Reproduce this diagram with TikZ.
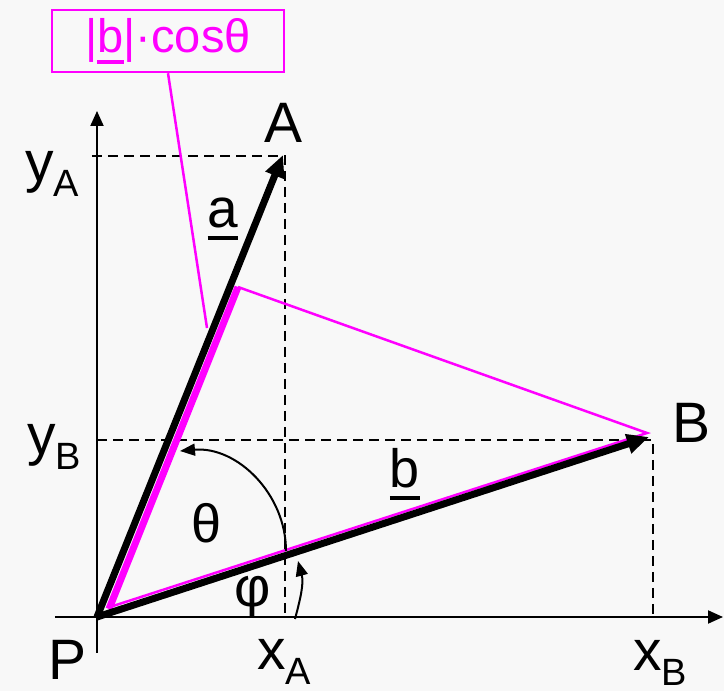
\documentclass[tikz,border=0pt]{standalone}
\usepackage{fontspec}
\setmainfont{Liberation Sans}
\usetikzlibrary{arrows.meta,calc}
\definecolor{paper}{HTML}{F8F8F8}
\definecolor{projpink}{HTML}{FF00FF}
\newsavebox\ulbox
\newcommand\ulvec[1]{\sbox\ulbox{#1}\rlap{\usebox\ulbox}\raisebox{-12pt}{\rule{\wd\ulbox}{4pt}}}
\newcommand\idx[1]{\raisebox{-15pt}{\fontsize{38}{40}\selectfont #1}}

\begin{document}
\begin{tikzpicture}[x=1pt,y=1pt,font=\fontsize{57}{60}\selectfont,
  axis/.style={line width=2pt,-{Triangle[length=15pt,width=13pt]}},
  vec/.style={line width=7pt,-{Triangle[length=22pt,width=19pt]}},
  guide/.style={line width=2.2pt,dash pattern=on 10pt off 6pt},
  turn/.style={line width=2pt,-{Triangle[length=15pt,width=12pt]}},
  proj/.style={projpink,line width=2.5pt},
  lbl/.style={inner sep=0pt}]
  \fill[paper] (-97,-74) rectangle (627,617);
  \useasboundingbox (-97,-74) rectangle (627,617);
  % points
  \coordinate (P) at (0,0);
  \coordinate (A) at (186,462);
  \coordinate (B) at (552,180);
  \coordinate (Ac) at (188,461);
  \coordinate (Bc) at (556,177);
  \coordinate (yAend) at (-5,461);
  \coordinate (xAend) at (188,0);
  \coordinate (yBend) at (0,177);
  \coordinate (xBend) at (556,0);
  % axes
  \coordinate (xlo) at (-42,0);
  \coordinate (xhi) at (626,0);
  \coordinate (ylo) at (0,-36);
  \coordinate (yhi) at (0,506);
  \draw[axis] (xlo) -- (xhi);
  \draw[axis] (ylo) -- (yhi);
  % guides
  \draw[guide] (yAend) -- (Ac) -- (xAend);
  \draw[guide] (yBend) -- (Bc) -- (xBend);
  % projection of b on a
  \coordinate (Pm) at (12,8);
  \coordinate (Pn) at (13,10);
  \coordinate (F) at (141,330);
  \coordinate (Bm) at (550,184);
  \draw[projpink,line width=7pt] (Pm) -- (F);
  \draw[proj] (F) -- (Bm) -- (Pn);
  % vectors
  \draw[vec] (P) -- (A);
  \draw[vec] (P) -- (B);
  % angles
  \coordinate (th0) at (189,66);
  \coordinate (th1) at (83,166);
  \draw[turn] (th0) to[out=90,in=5] (th1);
  \coordinate (ph0) at (198,-2);
  \coordinate (ph1) at (201,56);
  \draw[turn] (ph0) to[out=75,in=-75] (ph1);
  % callout
  \node[draw=projpink,line width=2.5pt,text=projpink,minimum width=232pt,
    minimum height=62pt,inner sep=0pt,font=\fontsize{47}{50}\selectfont]
    (note) at (71,576) {|\ulvec{b}|·cosθ};
  \coordinate (tip) at (110,289);
  \draw[proj] (note.south) -- (tip);
  % labels
  \node[lbl,anchor=base] (lblA) at (187,474) {A};
  \node[lbl,anchor=base] (lblB) at (595,174) {B};
  \node[lbl,anchor=base] (lblP) at (-29,-63) {P};
  \node[lbl,anchor=base west] (lblyA) at (-72,435) {y\idx{A}};
  \node[lbl,anchor=base west] (lblyB) at (-70,162) {y\idx{B}};
  \node[lbl,anchor=base west] (lblxA) at (160,-53) {x\idx{A}};
  \node[lbl,anchor=base west] (lblxB) at (536,-54) {x\idx{B}};
  \node[lbl,anchor=base,font=\fontsize{55}{58}\selectfont] (lbla) at (126,389) {\ulvec{a}};
  \node[lbl,anchor=base,font=\fontsize{54}{58}\selectfont] (lblb) at (308,129) {\ulvec{b}};
  \node[lbl,anchor=base,font=\fontsize{54}{58}\selectfont] (lbltheta) at (110,74) {θ};
  \node[lbl,font=\fontsize{56}{58}\selectfont] (lblphi) at (156,20) {φ};
\end{tikzpicture}
\end{document}
